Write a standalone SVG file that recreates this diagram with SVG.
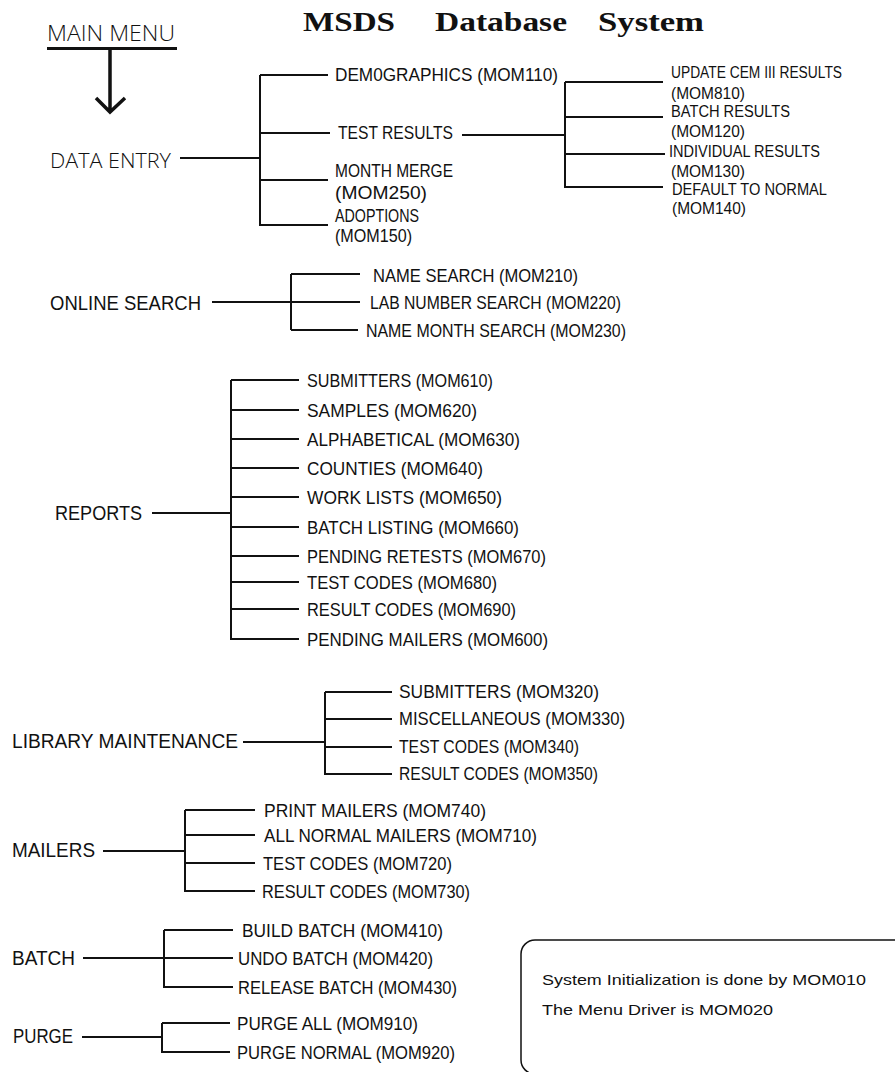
<svg xmlns="http://www.w3.org/2000/svg" width="895" height="1072" viewBox="0 0 895 1072">
<style>
text{font-family:"Liberation Sans",Arial,sans-serif;fill:#111}
.h{font-size:20px}
.i{font-size:17.5px}
.s{font-size:16px}
.l{font-family:"Open Sans","Liberation Sans",sans-serif;font-weight:300}
.t{font-family:"Liberation Serif","Times New Roman",serif;font-weight:bold;font-size:28px}
.c line{stroke:#111;stroke-width:2;fill:none}
.n{font-size:15px}
</style>
<rect width="895" height="1072" fill="#fff"/>
<g id="title">
<text class="t" x="303" y="31" textLength="92" lengthAdjust="spacingAndGlyphs">MSDS</text>
<text class="t" x="435" y="31" textLength="132" lengthAdjust="spacingAndGlyphs">Database</text>
<text class="t" x="598" y="31" textLength="106" lengthAdjust="spacingAndGlyphs">System</text>
</g>
<g id="main-menu">
<text class="l" x="47" y="41" style="font-size:22px" textLength="128" lengthAdjust="spacingAndGlyphs">MAIN MENU</text>
<line x1="47" y1="48.5" x2="177" y2="48.5" stroke="#111" stroke-width="3"/>
<path d="M110 48V112M96 98L110 112L125 98" stroke="#111" stroke-width="3.5" fill="none"/>
</g>
<g class="c" id="connectors">
<line x1="180" y1="158" x2="260" y2="158"/>
<line x1="260" y1="75" x2="260" y2="226"/>
<line x1="260" y1="75" x2="328" y2="75"/>
<line x1="260" y1="133" x2="330" y2="133"/>
<line x1="260" y1="180" x2="328" y2="180"/>
<line x1="260" y1="225" x2="328" y2="225"/>
<line x1="462" y1="135" x2="565" y2="135"/>
<line x1="565" y1="82" x2="565" y2="188"/>
<line x1="565" y1="82" x2="663" y2="82"/>
<line x1="565" y1="117" x2="663" y2="117"/>
<line x1="565" y1="154" x2="665" y2="154"/>
<line x1="565" y1="187" x2="663" y2="187"/>
<line x1="212" y1="302" x2="360" y2="302"/>
<line x1="291" y1="274" x2="291" y2="330"/>
<line x1="291" y1="274" x2="360" y2="274"/>
<line x1="291" y1="330" x2="358" y2="330"/>
<line x1="152" y1="513" x2="231" y2="513"/>
<line x1="231" y1="380" x2="231" y2="640"/>
<line x1="231" y1="380" x2="299" y2="380"/>
<line x1="231" y1="410" x2="299" y2="410"/>
<line x1="231" y1="439" x2="299" y2="439"/>
<line x1="231" y1="468" x2="299" y2="468"/>
<line x1="231" y1="497" x2="299" y2="497"/>
<line x1="231" y1="527" x2="299" y2="527"/>
<line x1="231" y1="556" x2="299" y2="556"/>
<line x1="231" y1="582" x2="299" y2="582"/>
<line x1="231" y1="609" x2="299" y2="609"/>
<line x1="231" y1="639" x2="299" y2="639"/>
<line x1="243" y1="742" x2="325" y2="742"/>
<line x1="325" y1="692" x2="325" y2="775"/>
<line x1="325" y1="692" x2="392" y2="692"/>
<line x1="325" y1="719" x2="392" y2="719"/>
<line x1="325" y1="747" x2="392" y2="747"/>
<line x1="325" y1="774" x2="392" y2="774"/>
<line x1="103" y1="851" x2="185" y2="851"/>
<line x1="185" y1="810" x2="185" y2="892"/>
<line x1="185" y1="810" x2="255" y2="810"/>
<line x1="185" y1="835" x2="255" y2="835"/>
<line x1="185" y1="863" x2="255" y2="863"/>
<line x1="185" y1="891" x2="255" y2="891"/>
<line x1="83" y1="958" x2="233" y2="958"/>
<line x1="164" y1="930" x2="164" y2="988"/>
<line x1="164" y1="930" x2="233" y2="930"/>
<line x1="164" y1="987" x2="233" y2="987"/>
<line x1="82" y1="1037" x2="162" y2="1037"/>
<line x1="162" y1="1023" x2="162" y2="1053"/>
<line x1="162" y1="1023" x2="230" y2="1023"/>
<line x1="162" y1="1052" x2="230" y2="1052"/>
</g>
<g id="data-entry">
<text class="h l" x="50" y="168" textLength="121" lengthAdjust="spacingAndGlyphs">DATA ENTRY</text>
<text class="i" x="335" y="81" textLength="223" lengthAdjust="spacingAndGlyphs">DEM0GRAPHICS (MOM110)</text>
<text class="i" x="338" y="139" textLength="115" lengthAdjust="spacingAndGlyphs">TEST RESULTS</text>
<text class="i" x="335" y="177" textLength="118" lengthAdjust="spacingAndGlyphs">MONTH MERGE</text>
<text class="i" x="335" y="199" textLength="92" lengthAdjust="spacingAndGlyphs">(MOM250)</text>
<text class="i" x="335" y="222" textLength="84" lengthAdjust="spacingAndGlyphs">ADOPTIONS</text>
<text class="i" x="335" y="242" textLength="77" lengthAdjust="spacingAndGlyphs">(MOM150)</text>
</g>
<g id="test-results">
<text class="s" x="671" y="78" textLength="171" lengthAdjust="spacingAndGlyphs">UPDATE CEM III RESULTS</text>
<text class="s" x="671" y="99" textLength="74" lengthAdjust="spacingAndGlyphs">(MOM810)</text>
<text class="s" x="671" y="117" textLength="119" lengthAdjust="spacingAndGlyphs">BATCH RESULTS</text>
<text class="s" x="671" y="137" textLength="74" lengthAdjust="spacingAndGlyphs">(MOM120)</text>
<text class="s" x="669" y="157" textLength="151" lengthAdjust="spacingAndGlyphs">INDIVIDUAL RESULTS</text>
<text class="s" x="671" y="177" textLength="74" lengthAdjust="spacingAndGlyphs">(MOM130)</text>
<text class="s" x="672" y="195" textLength="155" lengthAdjust="spacingAndGlyphs">DEFAULT TO NORMAL</text>
<text class="s" x="672" y="214" textLength="74" lengthAdjust="spacingAndGlyphs">(MOM140)</text>
</g>
<g id="online-search">
<text class="h" x="50" y="310" textLength="151" lengthAdjust="spacingAndGlyphs">ONLINE SEARCH</text>
<text class="i" x="373" y="282" textLength="205" lengthAdjust="spacingAndGlyphs">NAME SEARCH (MOM210)</text>
<text class="i" x="370" y="309" textLength="251" lengthAdjust="spacingAndGlyphs">LAB NUMBER SEARCH (MOM220)</text>
<text class="i" x="366" y="337" textLength="260" lengthAdjust="spacingAndGlyphs">NAME MONTH SEARCH (MOM230)</text>
</g>
<g id="reports">
<text class="h" x="55" y="520" textLength="87" lengthAdjust="spacingAndGlyphs">REPORTS</text>
<text class="i" x="307" y="387" textLength="186" lengthAdjust="spacingAndGlyphs">SUBMITTERS (MOM610)</text>
<text class="i" x="307" y="417" textLength="170" lengthAdjust="spacingAndGlyphs">SAMPLES (MOM620)</text>
<text class="i" x="307" y="446" textLength="213" lengthAdjust="spacingAndGlyphs">ALPHABETICAL (MOM630)</text>
<text class="i" x="307" y="475" textLength="176" lengthAdjust="spacingAndGlyphs">COUNTIES (MOM640)</text>
<text class="i" x="307" y="504" textLength="195" lengthAdjust="spacingAndGlyphs">WORK LISTS (MOM650)</text>
<text class="i" x="307" y="534" textLength="212" lengthAdjust="spacingAndGlyphs">BATCH LISTING (MOM660)</text>
<text class="i" x="307" y="563" textLength="239" lengthAdjust="spacingAndGlyphs">PENDING RETESTS (MOM670)</text>
<text class="i" x="307" y="589" textLength="190" lengthAdjust="spacingAndGlyphs">TEST CODES (MOM680)</text>
<text class="i" x="307" y="616" textLength="209" lengthAdjust="spacingAndGlyphs">RESULT CODES (MOM690)</text>
<text class="i" x="307" y="646" textLength="241" lengthAdjust="spacingAndGlyphs">PENDING MAILERS (MOM600)</text>
</g>
<g id="library-maintenance">
<text class="h" x="12" y="748" textLength="226" lengthAdjust="spacingAndGlyphs">LIBRARY MAINTENANCE</text>
<text class="i" x="399" y="698" textLength="200" lengthAdjust="spacingAndGlyphs">SUBMITTERS (MOM320)</text>
<text class="i" x="399" y="725" textLength="226" lengthAdjust="spacingAndGlyphs">MISCELLANEOUS (MOM330)</text>
<text class="i" x="399" y="753" textLength="180" lengthAdjust="spacingAndGlyphs">TEST CODES (MOM340)</text>
<text class="i" x="399" y="780" textLength="199" lengthAdjust="spacingAndGlyphs">RESULT CODES (MOM350)</text>
</g>
<g id="mailers">
<text class="h" x="12" y="857" textLength="83" lengthAdjust="spacingAndGlyphs">MAILERS</text>
<text class="i" x="264" y="817" textLength="222" lengthAdjust="spacingAndGlyphs">PRINT MAILERS (MOM740)</text>
<text class="i" x="264" y="842" textLength="273" lengthAdjust="spacingAndGlyphs">ALL NORMAL MAILERS (MOM710)</text>
<text class="i" x="263" y="870" textLength="189" lengthAdjust="spacingAndGlyphs">TEST CODES (MOM720)</text>
<text class="i" x="262" y="898" textLength="208" lengthAdjust="spacingAndGlyphs">RESULT CODES (MOM730)</text>
</g>
<g id="batch">
<text class="h" x="12" y="965" textLength="63" lengthAdjust="spacingAndGlyphs">BATCH</text>
<text class="i" x="242" y="937" textLength="201" lengthAdjust="spacingAndGlyphs">BUILD BATCH (MOM410)</text>
<text class="i" x="238" y="965" textLength="195" lengthAdjust="spacingAndGlyphs">UNDO BATCH (MOM420)</text>
<text class="i" x="238" y="994" textLength="219" lengthAdjust="spacingAndGlyphs">RELEASE BATCH (MOM430)</text>
</g>
<g id="purge">
<text class="h" x="13" y="1043" textLength="60" lengthAdjust="spacingAndGlyphs">PURGE</text>
<text class="i" x="237" y="1030" textLength="181" lengthAdjust="spacingAndGlyphs">PURGE ALL (MOM910)</text>
<text class="i" x="237" y="1059" textLength="218" lengthAdjust="spacingAndGlyphs">PURGE NORMAL (MOM920)</text>
</g>
<g id="note">
<rect x="521" y="940" width="420" height="134" rx="14" fill="none" stroke="#111" stroke-width="1.5"/>
<text class="n" x="542" y="985" textLength="324" lengthAdjust="spacingAndGlyphs">System Initialization is done by MOM010</text>
<text class="n" x="542" y="1015" textLength="231" lengthAdjust="spacingAndGlyphs">The Menu Driver is MOM020</text>
</g>
</svg>
